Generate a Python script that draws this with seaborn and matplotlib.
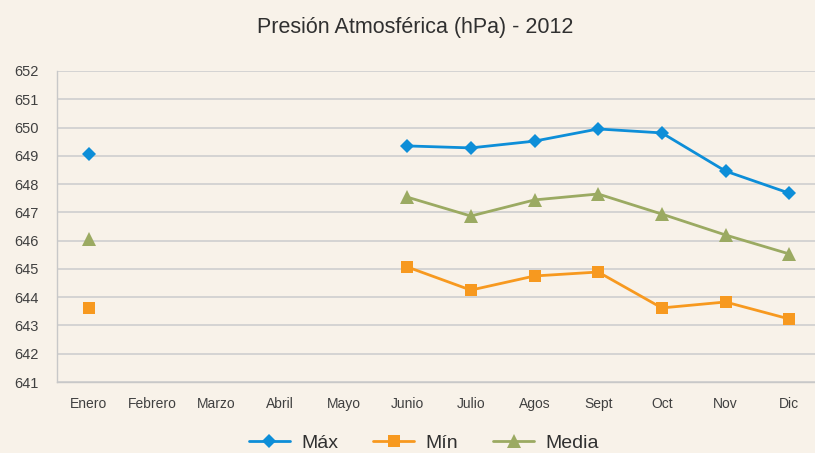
import matplotlib
matplotlib.use("Agg")
import matplotlib.pyplot as plt
import seaborn as sns
import pandas as pd
import numpy as np

# data
meses = ['Enero', 'Febrero', 'Marzo', 'Abril', 'Mayo', 'Junio',
         'Julio', 'Agos', 'Sept', 'Oct', 'Nov', 'Dic']
maxima = [649.05, None, None, None, None, 649.35, 649.28, 649.52, 649.95, 649.81, 648.46, 647.68]
minima = [643.62, None, None, None, None, 645.07, 644.25, 644.75, 644.89, 643.62, 643.83, 643.23]
media = [646.06, None, None, None, None, 647.54, 646.87, 647.44, 647.65, 646.94, 646.20, 645.53]
series = {'Máx': maxima, 'Mín': minima, 'Media': media}
colores = {'Máx': '#0D8ED8', 'Mín': '#F7991F', 'Media': '#9BAA62'}
marcas = {'Máx': 'D', 'Mín': 's', 'Media': '^'}
tamanos = {'Máx': 7, 'Mín': 9, 'Media': 10}

# long format, with a segment id so the gap Feb-May is not bridged
rows = []
for nombre, vals in series.items():
    tramo = 0
    for i, v in enumerate(vals):
        if v is None:
            tramo += 1
            continue
        rows.append({'pos': i, 'valor': v, 'serie': nombre, 'tramo': f'{nombre}-{tramo}'})
df = pd.DataFrame(rows)

bg = '#F8F2E9'
sns.set_style('white')
plt.rcParams['font.family'] = ['Liberation Sans', 'DejaVu Sans']

fig = plt.figure(figsize=(8.15, 4.53), dpi=100, facecolor=bg)
ax = fig.add_axes([57 / 815, 71 / 453, 764 / 815, 311 / 453])
ax.set_facecolor(bg)

for nombre in series:
    sub = df[df['serie'] == nombre]
    sns.lineplot(data=sub, x='pos', y='valor', units='tramo', estimator=None,
                 color=colores[nombre], marker=marcas[nombre], markersize=tamanos[nombre],
                 markeredgewidth=0, linewidth=2, ax=ax, label=nombre, legend=False)

ax.set_xlim(-0.5, 11.5)
ax.set_ylim(641, 652)
ax.set_yticks(np.arange(641, 653, 1))
ax.set_yticklabels([str(v) for v in range(641, 653)], fontsize=10.5, color='#404040')
ax.set_xticks(np.arange(12))
ax.set_xticklabels(meses, fontsize=10, color='#404040')
ax.set_xticks(np.arange(-0.5, 12, 1), minor=True)
ax.tick_params(axis='x', which='major', length=0, pad=11)
ax.tick_params(axis='x', which='minor', length=5, color='#C8C8C8', width=1)
ax.tick_params(axis='y', length=7, color='#CFCFCF', width=1, pad=6)
ax.grid(axis='y', color='#CFCFCF', linewidth=1.2)
ax.set_axisbelow(True)
for s in ['top', 'right']:
    ax.spines[s].set_visible(False)
for s in ['left', 'bottom']:
    ax.spines[s].set_color('#C8C8C8')
    ax.spines[s].set_linewidth(1)
ax.set_xlabel('')
ax.set_ylabel('')

fig.text(415 / 815, 1 - 27 / 453, 'Presión Atmosférica (hPa) - 2012', ha='center', va='center',
         fontsize=15.5, color='#303030')

# one legend entry per series
handles, labels = ax.get_legend_handles_labels()
unicos = {}
for h, l in zip(handles, labels):
    if l in series and l not in unicos:
        unicos[l] = h
leg = fig.legend(list(unicos.values()), list(unicos.keys()), loc='center',
                 bbox_to_anchor=(424 / 815, 1 - 443 / 453), ncol=3, frameon=False,
                 fontsize=14, handlelength=2.1, handletextpad=0.6, columnspacing=1.8)
for t in leg.get_texts():
    t.set_color('#303030')

fig.savefig('out.png', dpi=100, facecolor=bg)
